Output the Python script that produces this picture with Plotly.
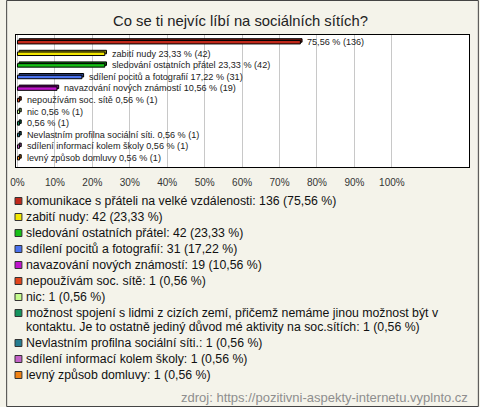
import textwrap
import plotly.graph_objects as go

title = "Co se ti nejvíc líbí na sociálních sítích?"
categories = [
    "komunikace s přáteli na velké vzdálenosti",
    "zabití nudy",
    "sledování ostatních přátel",
    "sdílení pocitů a fotografií",
    "navazování nových známostí",
    "nepoužívám soc. sítě",
    "nic",
    "možnost spojení s lidmi z cizích zemí, přičemž nemáme jinou možnost být v kontaktu. Je to ostatně jediný důvod mé aktivity na soc.sítích",
    "Nevlastním profilna sociální síti.",
    "sdílení informací kolem školy",
    "levný způsob domluvy",
]
bar_names = ["", "zabití nudy", "sledování ostatních přátel", "sdílení pocitů a fotografií",
             "navazování nových známostí", "nepoužívám soc. sítě", "nic", "",
             "Nevlastním profilna sociální síti.", "sdílení informací kolem školy", "levný způsob domluvy"]
counts = [136, 42, 42, 31, 19, 1, 1, 1, 1, 1, 1]
percents = [75.56, 23.33, 23.33, 17.22, 10.56, 0.56, 0.56, 0.56, 0.56, 0.56, 0.56]
colors = ["#c0281a", "#f2e600", "#16c016", "#4a72ee", "#c014cc", "#e2441a", "#c4fa8c",
          "#14945e", "#247c90", "#c462c8", "#f08214"]
tick_vals = [0, 10, 20, 30, 40, 50, 60, 70, 80, 90, 100]
tick_text = ["0%", "10%", "20%", "30%", "40%", "50%", "60%", "70%", "80%", "90%", "100%"]
source = "zdroj: https://pozitivni-aspekty-internetu.vyplnto.cz"

FONT = "Liberation Sans, Arial, sans-serif"
W, H = 480, 407
ML, MR, MT, MB = 10, 10, 35, 240
PW, PH = W - ML - MR, H - MT - MB


def px(x):
    return (x - ML) / PW


def py(y):
    return (MT + PH - y) / PH


def fmt(p):
    return f"{p:.2f}".replace(".", ",")


def darker(hexc, f=0.6):
    r, g, b = int(hexc[1:3], 16), int(hexc[3:5], 16), int(hexc[5:7], 16)
    return "#%02x%02x%02x" % (int(r * f), int(g * f), int(b * f))


ypos = list(range(len(categories)))
fig = go.Figure()
# 3D "shadow" part of the bars
fig.add_trace(go.Bar(
    x=percents, y=ypos, orientation="h", base=0.45,
    width=0.3, offset=-0.28,
    marker=dict(color=[darker(c) for c in colors], line=dict(color="black", width=1)),
    hoverinfo="skip", showlegend=False))
# front part
fig.add_trace(go.Bar(
    x=percents, y=ypos, orientation="h",
    width=0.3, offset=-0.13,
    marker=dict(color=colors, line=dict(color="black", width=1)),
    customdata=counts, showlegend=False,
    hovertemplate="%{x} %%<extra></extra>"))

annotations = []
for i, (nm, p, n) in enumerate(zip(bar_names, percents, counts)):
    txt = (nm + " " if nm else "") + f"{fmt(p)} % ({n})"
    annotations.append(dict(x=p, y=i, xref="x", yref="y", text=txt, showarrow=False,
                            xanchor="left", yanchor="middle", xshift=5,
                            font=dict(family=FONT, size=9.1, color="#222")))

# legend (drawn manually to match spacing)
shapes = []
ly = 201
for cat, n, p, c in zip(categories, counts, percents, colors):
    full = f"{cat}: {n} ({fmt(p)} %)"
    lines = textwrap.wrap(full, 74)
    shapes.append(dict(type="rect", xref="paper", yref="paper",
                       x0=px(9), x1=px(16), y0=py(ly - 3.5), y1=py(ly + 3.5),
                       fillcolor=c, line=dict(color="#333", width=1)))
    for k, line in enumerate(lines):
        annotations.append(dict(x=px(18.5), y=py(ly + k * 14), xref="paper", yref="paper",
                                text=line, showarrow=False, xanchor="left", yanchor="middle",
                                font=dict(family=FONT, size=12.3, color="#111")))
    ly += 16 + 14 * (len(lines) - 1)

annotations.append(dict(x=px(471), y=py(397), xref="paper", yref="paper", text=source,
                        showarrow=False, xanchor="right", yanchor="middle",
                        font=dict(family=FONT, size=13, color="#8e8e8e")))
annotations.append(dict(x=px(238), y=py(21), xref="paper", yref="paper", text=title,
                        showarrow=False, xanchor="center", yanchor="middle",
                        font=dict(family=FONT, size=14.8, color="#222")))

# outer frame
shapes.append(dict(type="rect", xref="paper", yref="paper",
                   x0=px(0.5), x1=px(W - 0.5), y0=py(H - 0.5), y1=py(0.5),
                   line=dict(color="#444", width=1), fillcolor="rgba(0,0,0,0)", layer="below"))

fig.update_layout(
    width=W, height=H,
    margin=dict(l=ML, r=MR, t=MT, b=MB, pad=0),
    paper_bgcolor="#f4f3ea", plot_bgcolor="white",
    barmode="overlay",
    xaxis=dict(range=[-0.39, 120.6], tickvals=tick_vals, ticktext=tick_text,
               showgrid=True, gridcolor="#c8c8c8", gridwidth=1, zeroline=False,
               showline=True, linecolor="black", linewidth=1, mirror=True,
               ticks="", ticklabelstandoff=6,
               tickfont=dict(family=FONT, size=10, color="#333"), fixedrange=True),
    yaxis=dict(range=[10.78, -0.6], showticklabels=False, showgrid=False, zeroline=False,
               showline=True, linecolor="black", linewidth=1, mirror=True, ticks="",
               fixedrange=True),
    annotations=annotations, shapes=shapes,
    showlegend=False,
)
fig.write_html("out.html", config={"displayModeBar": False},
               post_script="document.body.style.margin='0';document.body.style.overflow='hidden';")
